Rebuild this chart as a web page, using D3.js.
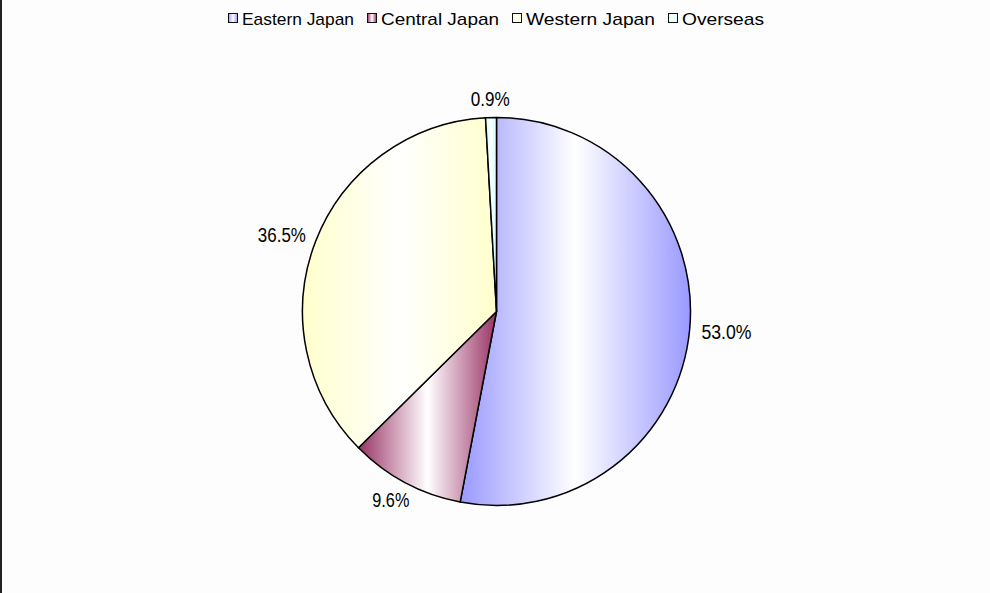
<!DOCTYPE html>
<html><head><meta charset="utf-8">
<script src="https://cdn.jsdelivr.net/npm/d3@7"></script>
<style>html,body{margin:0;padding:0;background:#fff;}svg{display:block;font-family:"Liberation Sans",Arial,sans-serif;}</style>
</head><body>
<svg id="chart" width="990" height="593"></svg>
<script>
const categories = ["Eastern Japan", "Central Japan", "Western Japan", "Overseas"];
const values = [53.0, 9.6, 36.5, 0.9];
const colors = ["#9999FF", "#993366", "#FFFFCC", "#CCFFFF"];
const legendTextWidths = [112, 118, 129, 82];

const W = 990, H = 593;
const cx = 496.5, cy = 311.5, R = 194;
const svg = d3.select("#chart");

svg.append("rect").attr("width", W).attr("height", H).attr("fill", "#fdfdfd");
svg.append("line").attr("x1", 1).attr("x2", 1).attr("y1", 0).attr("y2", H)
  .attr("stroke", "#222").attr("stroke-width", 2);

const defs = svg.append("defs");
colors.forEach((c, i) => {
  const g = defs.append("linearGradient").attr("id", "grad" + i)
    .attr("x1", 0).attr("x2", 1).attr("y1", 0).attr("y2", 0);
  g.append("stop").attr("offset", 0).attr("stop-color", c);
  g.append("stop").attr("offset", 0.5).attr("stop-color", "#ffffff");
  g.append("stop").attr("offset", 1).attr("stop-color", c);
});

const pie = d3.pie().sort(null).value(d => d);
const arcs = pie(values);
const arc = d3.arc().innerRadius(0).outerRadius(R);

const g = svg.append("g").attr("transform", `translate(${cx},${cy})`);
g.selectAll("path").data(arcs).enter().append("path")
  .attr("d", arc)
  .attr("fill", (d, i) => `url(#grad${i})`)
  .attr("stroke", "#000").attr("stroke-width", 1.5).attr("stroke-linejoin", "round");

// data labels
const fmt = d3.format(".1f");
const labelW = [50, 37, 48, 39];
const labelH = 15;
const gap = 12;
arcs.forEach((d, i) => {
  const a = (d.startAngle + d.endAngle) / 2;
  const s = Math.sin(a), c = Math.cos(a);
  const px = (R + gap) * s, py = -(R + gap) * c;
  const lx = px + labelW[i] / 2 * s;
  const ly = py - labelH / 2 * c;
  g.append("text")
    .attr("x", lx).attr("y", ly + labelH / 2)
    .attr("text-anchor", "middle")
    .attr("font-size", 20)
    .attr("textLength", labelW[i]).attr("lengthAdjust", "spacingAndGlyphs")
    .attr("fill", "#000")
    .text(fmt(d.data) + "%");
});

// legend
const legendLeft = 228, sw = 10, swGap = 4, itemGap = 13;
let x = legendLeft;
categories.forEach((name, i) => {
  svg.append("rect").attr("x", x + 0.5).attr("y", 13.5).attr("width", sw - 1).attr("height", sw - 1)
    .attr("fill", `url(#grad${i})`).attr("stroke", "#111").attr("stroke-width", 1);
  svg.append("text").attr("x", x + sw + swGap).attr("y", 25)
    .attr("font-size", 17)
    .attr("textLength", legendTextWidths[i]).attr("lengthAdjust", "spacingAndGlyphs")
    .attr("fill", "#000")
    .text(name);
  x += sw + swGap + legendTextWidths[i] + itemGap;
});
</script>
</body></html>
